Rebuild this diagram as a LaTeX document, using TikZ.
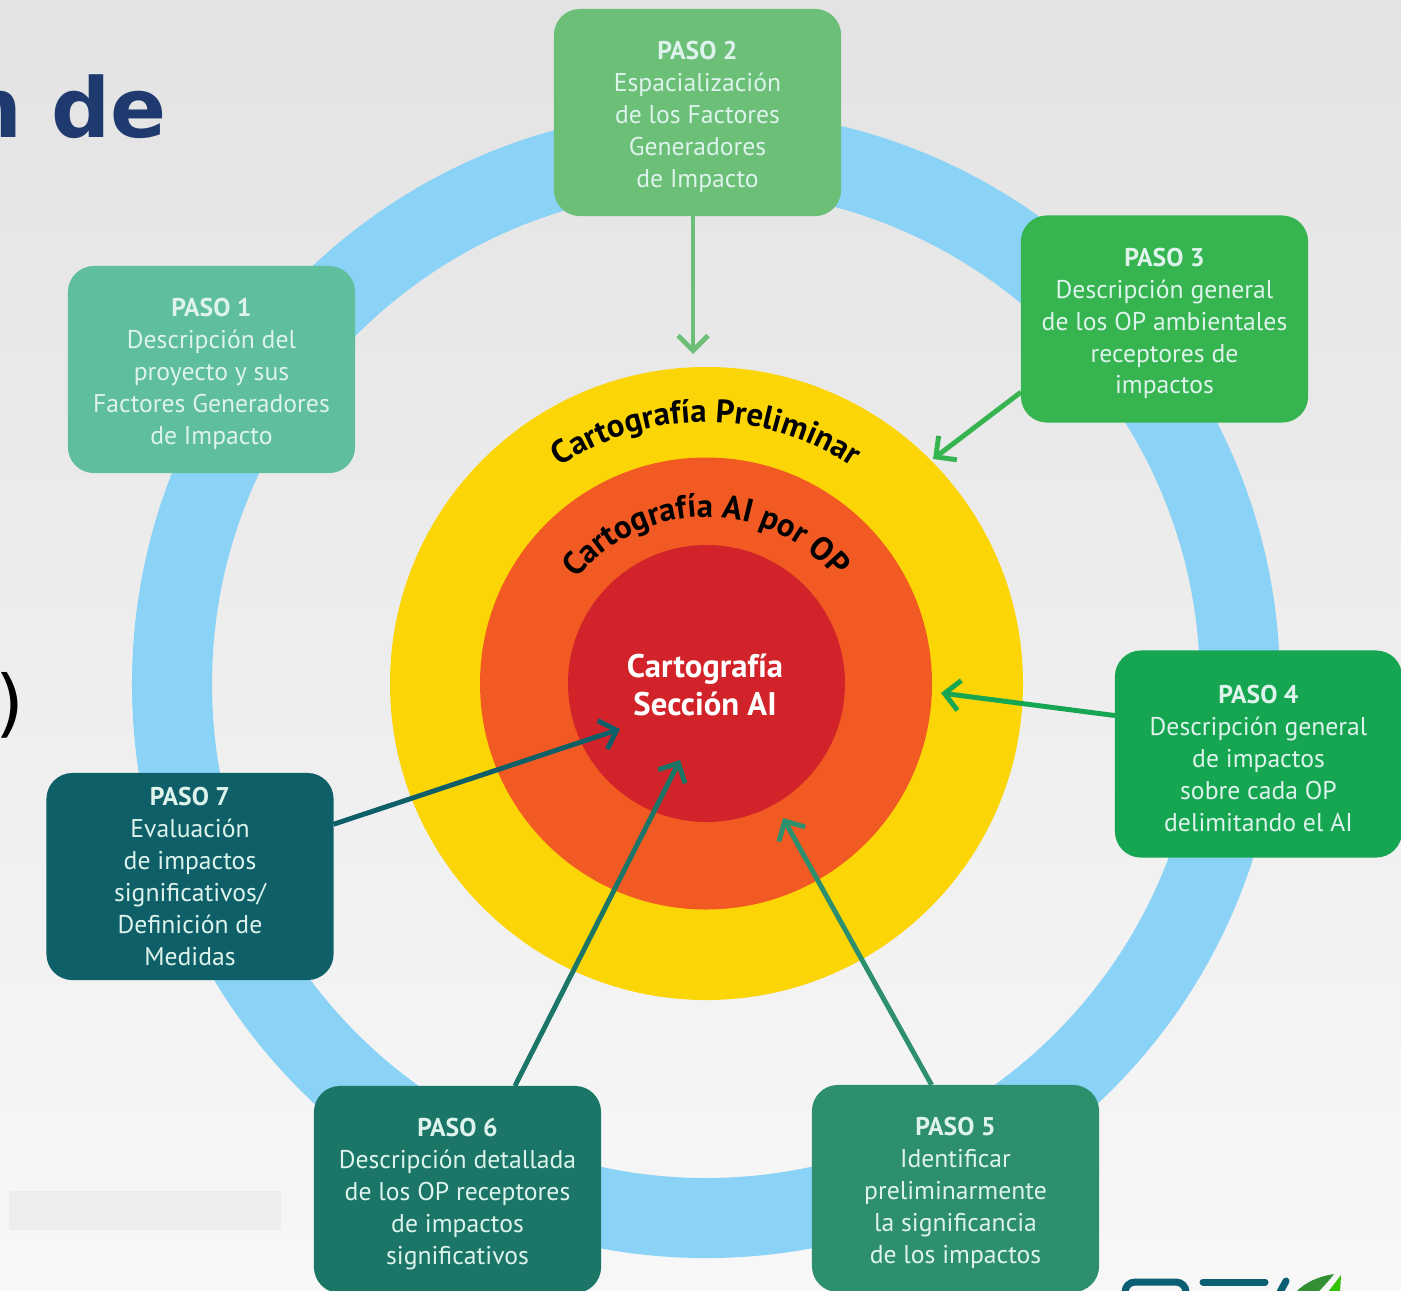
\documentclass[tikz,border=0pt]{standalone}
\usepackage{fontspec}
\setmainfont{PT Sans}
\newfontfamily\titlefont{DejaVu Sans}
\usetikzlibrary{arrows.meta,decorations.text}
\definecolor{ringblue}{HTML}{8AD3F7}
\definecolor{coreyellow}{HTML}{FCD507}
\definecolor{coreorange}{HTML}{F15A22}
\definecolor{corered}{HTML}{D2232A}
\definecolor{pasoA}{HTML}{5FBF9C}
\definecolor{pasoB}{HTML}{6BBF77}
\definecolor{pasoC}{HTML}{35B44F}
\definecolor{pasoD}{HTML}{16A651}
\definecolor{pasoE}{HTML}{2E8F6E}
\definecolor{pasoF}{HTML}{1B7667}
\definecolor{pasoG}{HTML}{0F5F68}
\definecolor{pasotext}{HTML}{DDF3EC}
\definecolor{titleblue}{HTML}{1F3A6E}
\definecolor{logoteal}{HTML}{0B5F73}
\newcommand{\pasotitle}[1]{\rule{0pt}{7.8pt}\textbf{#1}}
\tikzset{
    pasobox/.style={rounded corners=0.26cm, minimum width=2.87cm, minimum height=2.07cm,
        inner sep=0pt, outer sep=0pt, align=center, text=pasotext,
        font=\fontsize{7.3}{9.07}\selectfont},
    pasoarrow/.style={line width=1.4pt, -{Straight Barb[length=1.5mm,width=3mm,line width=1.4pt]}},
    curvedlabel/.style={decorate, decoration={text along path, text align=center, text={#1}}}
}
\begin{document}
\begin{tikzpicture}[x=0.01cm,y=-0.01cm]
    \useasboundingbox (0,0) rectangle (1401,1290);
    \fill[top color=black!11, bottom color=black!3] (0,0) rectangle (1401,1290);
    \fill[black!7] (9,1191) rectangle (281,1230);
    % text cut off by the left edge
    \node[anchor=base east, inner sep=0pt, text=titleblue, font=\titlefont\bfseries\fontsize{23.5}{28}\selectfont] (titulo) at (167,137) {n de};
    \node[anchor=east, inner sep=0pt, text=black, font=\titlefont\fontsize{21}{25}\selectfont] (cierre) at (25,705) {)};
    % ring and target
    \draw[ringblue, line width=0.8cm] (706,684) circle[radius=534];
    \fill[coreyellow] (706.5,683.5) circle[radius=316.5];
    \fill[coreorange] (706,683.5) circle[radius=226];
    \fill[corered] (706.5,683.5) circle[radius=138.5];
    \path[curvedlabel={|\fontsize{9.3}{11}\selectfont\bfseries|Cartografía Preliminar}]
        (706,684) ++(-125:262) arc[start angle=-125, end angle=-55, radius=262];
    \path[curvedlabel={|\fontsize{9.3}{11}\selectfont\bfseries|Cartografía AI por OP}]
        (706,684) ++(-145:167) arc[start angle=-145, end angle=-35, radius=167];
    \node[align=center, text=white, font=\fontsize{9.3}{10.8}\selectfont\bfseries] (seccion) at (705,685) {Cartografía\\Sección AI};
    % steps
    \node[pasobox, fill=pasoA] (paso1) at (211.5,369.5) {\pasotitle{PASO 1}\\Descripción del\\proyecto y sus\\Factores Generadores\\de Impacto};
    \node[pasobox, fill=pasoB] (paso2) at (697.5,112.5) {\pasotitle{PASO 2}\\Espacialización\\de los Factores\\Generadores\\de Impacto};
    \node[pasobox, fill=pasoC] (paso3) at (1164.5,319) {\pasotitle{PASO 3}\\Descripción general\\de los OP ambientales\\receptores de\\impactos};
    \node[pasobox, fill=pasoD] (paso4) at (1258.5,754) {\pasotitle{PASO 4}\\Descripción general\\de impactos\\sobre cada OP\\delimitando el AI};
    \node[pasobox, fill=pasoE] (paso5) at (955.5,1188.5) {\pasotitle{PASO 5}\\Identificar\\preliminarmente\\la significancia\\de los impactos};
    \node[pasobox, fill=pasoF] (paso6) at (457.5,1189.5) {\pasotitle{PASO 6}\\Descripción detallada\\de los OP receptores\\de impactos\\significativos};
    \node[pasobox, fill=pasoG] (paso7) at (190,876.5) {\textbf{PASO 7}\\Evaluación\\de impactos\\significativos/\\Definición de\\Medidas};
    % arrow ends
    \coordinate (fin2) at (693,354);
    \coordinate (fin3) at (933,459);
    \coordinate (fin4) at (941,693);
    \coordinate (fin5) at (783,818);
    \coordinate (fin6) at (680,760);
    \coordinate (fin7) at (620,729);
    \draw[pasoarrow, pasoB] (paso2.south -| fin2) -- (fin2);
    \draw[pasoarrow, pasoC] (paso3.207) -- (fin3);
    \draw[pasoarrow, pasoD] (paso4.165) -- (fin4);
    \draw[pasoarrow, pasoE] (paso5.103) -- (fin5);
    \draw[pasoarrow, pasoF] (paso6.61) -- (fin6);
    \draw[pasoarrow, pasoG] (paso7.20.5) -- (fin7);
    % logo, only its top shows
    \draw[logoteal, line width=2pt, rounded corners=0.1cm] (1125,1292) -- (1125,1282) -- (1186,1282) -- (1186,1292);
    \draw[logoteal, line width=2pt, line cap=round] (1203,1282) -- (1265,1282);
    \draw[logoteal, line width=2pt, line cap=round] (1286,1281) -- (1280,1292);
    \fill[green!45!black!80!white] (1296,1292) .. controls (1305,1282) and (1320,1276) .. (1334,1274) .. controls (1328,1282) and (1322,1288) .. (1318,1292) -- cycle;
    \fill[green!70!black!80!yellow] (1341,1275) -- (1328,1292) -- (1340,1292) -- cycle;
\end{tikzpicture}
\end{document}
